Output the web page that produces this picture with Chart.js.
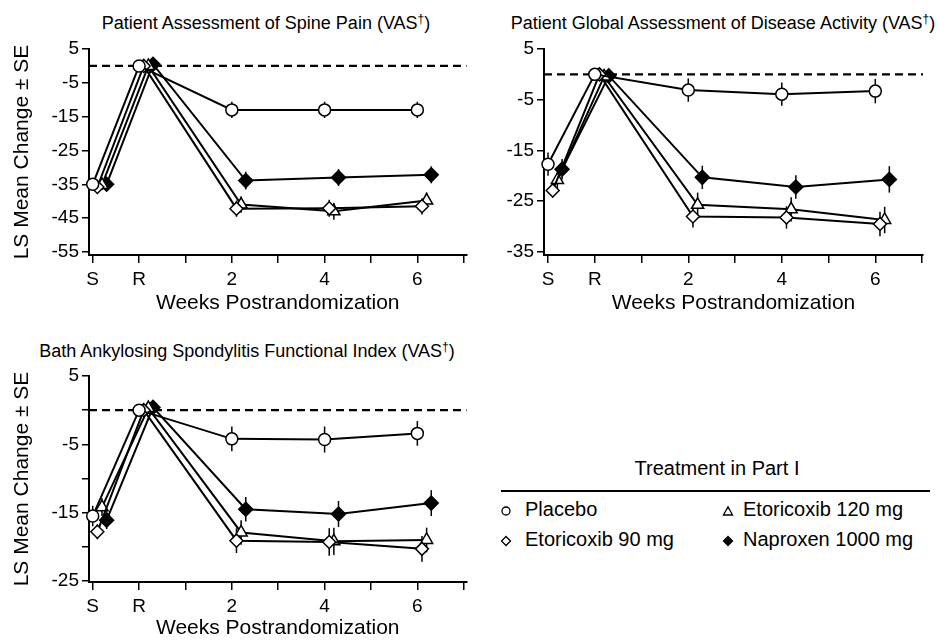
<!DOCTYPE html>
<html>
<head>
<meta charset="utf-8">
<title>LS Mean Change by Visit</title>
<script src="https://cdn.jsdelivr.net/npm/chart.js@4.4.0/dist/chart.umd.min.js"></script>
<style>
  html, body { margin: 0; padding: 0; background: #fff; overflow: hidden; }
  body { width: 938px; height: 641px; position: relative; font-family: "Liberation Sans", Arial, sans-serif; color: #000; }
  canvas { position: absolute; }
  .panel-title { position: absolute; font-size: 18px; line-height: 22px; white-space: nowrap; transform: translateX(-50%); }
  .panel-title sup { font-size: 12px; line-height: 0; vertical-align: 6px; }
  .lg-title { position: absolute; left: 717px; top: 456px; font-size: 20px; line-height: 24px; white-space: nowrap; transform: translateX(-50%); }
  .lg-rule { position: absolute; left: 501px; top: 490px; width: 429px; border-top: 2px solid #000; }
  .lg-text { position: absolute; font-size: 20px; line-height: 24px; white-space: nowrap; }
  .lg-mark { position: absolute; width: 12px; height: 12px; }
</style>
</head>
<body>
<div class="panel-title" style="left:266px; top:12px">Patient Assessment of Spine Pain (VAS<sup>†</sup>)</div>
<div class="panel-title" style="left:723px; top:12px">Patient Global Assessment of Disease Activity (VAS<sup>†</sup>)</div>
<div class="panel-title" style="left:247px; top:340px">Bath Ankylosing Spondylitis Functional Index (VAS<sup>†</sup>)</div>

<canvas id="spine" width="475" height="320" style="left:0; top:0"></canvas>
<canvas id="global" width="458" height="320" style="left:480px; top:0"></canvas>
<canvas id="basfi" width="475" height="321" style="left:0; top:320px"></canvas>

<div id="legend">
  <div class="lg-title">Treatment in Part I</div>
  <div class="lg-rule"></div>
</div>

<script>
// visits: S = screening, R = randomization, then weeks 2, 4 and 6
var visitPos = [0, 1, 3, 5, 7];
var xTickPos = [0, 1, 2, 3, 4, 5, 6, 7, 8];
var xTickLabels = ['S', 'R', '', '2', '', '4', '', '6', ''];

var groups = ['Placebo', 'Etoricoxib 90 mg', 'Etoricoxib 120 mg', 'Naproxen 1000 mg'];
// small sideways shift per group so the symbols don't sit on each other
var groupShift = [0, 0.1, 0.2, 0.3];

// Patient Assessment of Spine Pain
var spinePlacebo  = [-35.0, 0.0, -13.0, -13.0, -13.0];
var spineEto90    = [-35.8, 0.0, -42.2, -42.1, -41.5];
var spineEto120   = [-35.2, 0.0, -41.0, -43.0, -39.8];
var spineNaproxen = [-35.0, 0.5, -33.9, -33.0, -32.2];
var spineSePlacebo  = [1.5, 0, 2.4, 2.4, 2.4];
var spineSeEto90    = [1.5, 0, 2.4, 2.5, 2.4];
var spineSeEto120   = [1.5, 0, 2.4, 2.5, 2.4];
var spineSeNaproxen = [1.5, 0, 2.6, 2.5, 2.5];
var spineTicks = [5, 0, -5, -10, -15, -20, -25, -30, -35, -40, -45, -50, -55];

// Patient Global Assessment of Disease Activity
var globalPlacebo  = [-17.7, 0.0, -3.1, -3.9, -3.3];
var globalEto90    = [-22.9, 0.0, -28.0, -28.2, -29.5];
var globalEto120   = [-20.8, -0.4, -25.7, -26.6, -28.7];
var globalNaproxen = [-18.7, -0.3, -20.3, -22.2, -20.7];
var globalSePlacebo  = [2.3, 0, 2.3, 2.3, 2.4];
var globalSeEto90    = [1.4, 0, 2.2, 2.2, 2.4];
var globalSeEto120   = [1.6, 0, 2.4, 2.4, 2.6];
var globalSeNaproxen = [2.0, 0, 2.3, 2.3, 2.6];
var globalTicks = [5, 0, -5, -10, -15, -20, -25, -30, -35];

// Bath Ankylosing Spondylitis Functional Index
var basfiPlacebo  = [-15.5, 0.0, -4.2, -4.3, -3.4];
var basfiEto90    = [-17.8, 0.0, -19.1, -19.3, -20.3];
var basfiEto120   = [-14.2, 0.3, -17.9, -19.2, -19.0];
var basfiNaproxen = [-16.1, 0.4, -14.5, -15.2, -13.6];
var basfiSePlacebo  = [1.5, 0, 1.8, 1.9, 1.8];
var basfiSeEto90    = [1.1, 0, 1.8, 2.0, 1.9];
var basfiSeEto120   = [1.3, 0, 1.8, 2.0, 1.8];
var basfiSeNaproxen = [1.3, 0, 1.8, 1.9, 1.9];
var basfiTicks = [5, 0, -5, -10, -15, -20, -25];

// symbol per group
var markStyle  = ['circle', 'rectRot', 'triangle', 'rectRot'];
var markFill   = ['#fff', '#fff', '#fff', '#000'];
var markRadius = [6, 6.5, 7, 7];

Chart.defaults.font.family = "'Liberation Sans', Arial, sans-serif";
Chart.defaults.color = '#000';

function makeSeries(values, se, g) {
  return {
    label: groups[g],
    data: values.map(function(v, i) {
      return { x: visitPos[i] + groupShift[g], y: v, se: se[i] };
    }),
    showLine: true,
    borderColor: '#000',
    borderWidth: 2,
    pointStyle: markStyle[g],
    pointRadius: markRadius[g],
    pointBackgroundColor: markFill[g],
    pointBorderColor: '#000',
    pointBorderWidth: 1.5,
    clip: false
  };
}

// dashed zero line and the +/- SE whiskers, drawn under the symbols
var errorBars = {
  id: 'errorBars',
  beforeDatasetsDraw: function(chart) {
    var ctx = chart.ctx;
    var xs = chart.scales.x;
    var ys = chart.scales.y;
    var area = chart.chartArea;
    ctx.save();
    ctx.strokeStyle = '#000';
    ctx.lineWidth = 2.2;
    ctx.setLineDash([8, 5]);
    var y0 = ys.getPixelForValue(0);
    ctx.beginPath();
    ctx.moveTo(area.left, y0);
    ctx.lineTo(area.right, y0);
    ctx.stroke();

    ctx.setLineDash([]);
    ctx.lineWidth = 1.5;
    chart.data.datasets.forEach(function(ds) {
      ds.data.forEach(function(p) {
        if (!p.se) return;
        var x = xs.getPixelForValue(p.x);
        ctx.beginPath();
        ctx.moveTo(x, ys.getPixelForValue(p.y + p.se));
        ctx.lineTo(x, ys.getPixelForValue(p.y - p.se));
        ctx.stroke();
      });
    });
    ctx.restore();
  }
};

function drawPanel(id, series, yTicks, opts) {
  var ctx = document.getElementById(id).getContext('2d');
  return new Chart(ctx, {
    type: 'scatter',
    data: { datasets: series },
    options: {
      responsive: false,
      animation: false,
      devicePixelRatio: 1,
      layout: { padding: opts.padding },
      plugins: { legend: { display: false }, tooltip: { enabled: false } },
      scales: {
        x: {
          type: 'linear',
          min: opts.xMin,
          max: opts.xMax,
          afterBuildTicks: function(scale) {
            scale.ticks = xTickPos.map(function(v) { return { value: v }; });
          },
          afterFit: function(scale) { scale.height = opts.xHeight; },
          ticks: {
            autoSkip: false,
            maxRotation: 0,
            padding: 5,
            font: { size: 19 },
            color: '#000',
            callback: function(v, i) { return xTickLabels[i]; }
          },
          grid: { drawOnChartArea: false, drawTicks: true, tickLength: 8, color: '#000', lineWidth: 1.5 },
          border: { display: true, color: '#000', width: 2 },
          title: {
            display: true,
            text: 'Weeks Postrandomization',
            font: { size: 21 },
            color: '#000',
            padding: { top: 0, bottom: opts.xTitlePad }
          }
        },
        y: {
          type: 'linear',
          min: opts.yMin,
          max: opts.yMax,
          afterBuildTicks: function(scale) {
            scale.ticks = yTicks.map(function(v) { return { value: v }; });
          },
          afterFit: function(scale) { scale.width = opts.yWidth; },
          ticks: {
            padding: 3,
            font: { size: 19 },
            color: '#000',
            callback: function(v) { return (5 - v) % 10 === 0 ? String(v) : ''; }
          },
          grid: { drawOnChartArea: false, drawTicks: true, tickLength: 7, color: '#000', lineWidth: 1.5 },
          border: { display: true, color: '#000', width: 2 },
          title: {
            display: opts.yTitle,
            text: 'LS Mean Change \u00b1 SE',
            font: { size: 21 },
            color: '#000',
            padding: { top: 10, bottom: 0 }
          }
        }
      }
    },
    plugins: [errorBars]
  });
}

drawPanel('spine', [
  makeSeries(spinePlacebo, spineSePlacebo, 0),
  makeSeries(spineEto90, spineSeEto90, 1),
  makeSeries(spineEto120, spineSeEto120, 2),
  makeSeries(spineNaproxen, spineSeNaproxen, 3)
], spineTicks, {
  padding: { left: 0, top: 49, right: 5, bottom: 0 },
  xMin: -0.08, xMax: 8.06, yMin: -55.9, yMax: 5,
  yWidth: 89, xHeight: 65, xTitlePad: 4, yTitle: true
});

drawPanel('global', [
  makeSeries(globalPlacebo, globalSePlacebo, 0),
  makeSeries(globalEto90, globalSeEto90, 1),
  makeSeries(globalEto120, globalSeEto120, 2),
  makeSeries(globalNaproxen, globalSeNaproxen, 3)
], globalTicks, {
  padding: { left: 0, top: 49, right: 15, bottom: 0 },
  xMin: -0.086, xMax: 8.02, yMin: -35.6, yMax: 5,
  yWidth: 64, xHeight: 65, xTitlePad: 4, yTitle: false
});

drawPanel('basfi', [
  makeSeries(basfiPlacebo, basfiSePlacebo, 0),
  makeSeries(basfiEto90, basfiSeEto90, 1),
  makeSeries(basfiEto120, basfiSeEto120, 2),
  makeSeries(basfiNaproxen, basfiSeNaproxen, 3)
], basfiTicks, {
  padding: { left: 0, top: 56, right: 5, bottom: 0 },
  xMin: -0.08, xMax: 8.06, yMin: -25.15, yMax: 5,
  yWidth: 89, xHeight: 59, xTitlePad: 0, yTitle: true
});

// legend: two columns, placebo / 90 mg on the left, 120 mg / naproxen on the right
var legendSlots = [
  { mark: 506, text: 525, top: 497 },
  { mark: 506, text: 525, top: 527 },
  { mark: 728, text: 743, top: 497 },
  { mark: 728, text: 743, top: 527 }
];
var legendSvg = [
  '<circle cx="6" cy="6" r="4" fill="#fff" stroke="#000" stroke-width="1.3"/>',
  '<polygon points="6,1.5 10.5,6 6,10.5 1.5,6" fill="#fff" stroke="#000" stroke-width="1.3"/>',
  '<polygon points="6,1.8 10.5,10 1.5,10" fill="#fff" stroke="#000" stroke-width="1.3"/>',
  '<polygon points="6,1.5 10.5,6 6,10.5 1.5,6" fill="#000" stroke="#000" stroke-width="1.3"/>'
];
var legendBox = document.getElementById('legend');
groups.forEach(function(name, g) {
  var slot = legendSlots[g];
  var mark = document.createElement('div');
  mark.className = 'lg-mark';
  mark.style.left = (slot.mark - 6) + 'px';
  mark.style.top = (slot.top + 6) + 'px';
  mark.innerHTML = '<svg width="12" height="12" viewBox="0 0 12 12">' + legendSvg[g] + '</svg>';
  legendBox.appendChild(mark);

  var label = document.createElement('div');
  label.className = 'lg-text';
  label.style.left = slot.text + 'px';
  label.style.top = slot.top + 'px';
  label.textContent = name;
  legendBox.appendChild(label);
});
</script>
</body>
</html>
